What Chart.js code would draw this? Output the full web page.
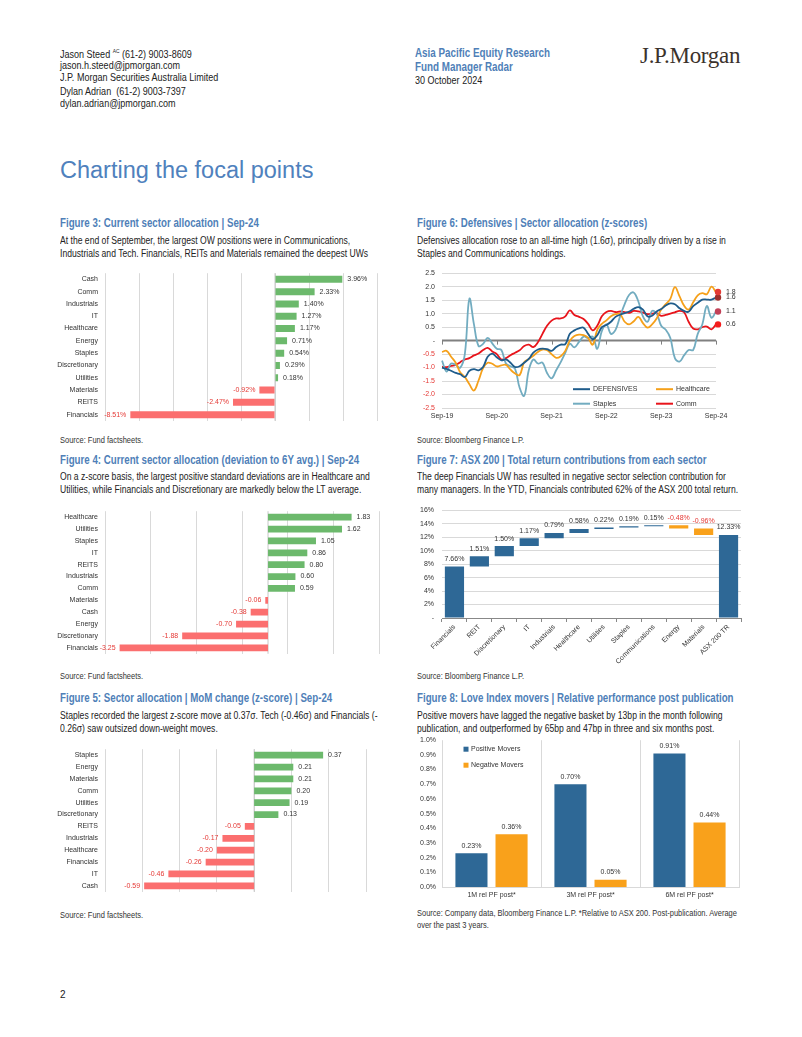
<!DOCTYPE html>
<html lang="en">
<head>
<meta charset="UTF-8">
<title>Fund Manager Radar - Charting the focal points</title>
<script src="https://cdn.jsdelivr.net/npm/chart.js"></script>
<style>
  body { margin: 0; background: #fff; font-family: "Liberation Sans", Arial, sans-serif; color: #222; }
  #page { position: relative; width: 802px; height: 1037px; overflow: hidden; }
  .t { position: absolute; white-space: nowrap; line-height: 1; transform-origin: 0 0; }
  /* no narrow face installed, so squeeze the regular one */
  .nar { transform: scaleX(0.82); }
  .hd { font-size: 11px; }
  .blue { color: #4f7fb8; font-weight: bold; }
  .logo { font-family: "Liberation Serif", "Times New Roman", serif; font-size: 23px; letter-spacing: -0.3px; color: #3b322c; }
  .h1 { font-size: 23.5px; color: #4f81bd; }
  .ft { font-size: 12px; font-weight: bold; color: #4f7fb8; transform: scaleX(0.81); }
  .desc { font-size: 10px; line-height: 13px; transform: scaleX(0.86); }
  .src { font-size: 9px; line-height: 12px; color: #333; transform: scaleX(0.83); }
  canvas { position: absolute; }
</style>
</head>
<body>
<div id="page">
  <div class="t nar hd" style="left:60px;top:47.5px">Jason Steed <sup style="font-size:6px">AC</sup> (61-2) 9003-8609</div>
  <div class="t nar hd" style="left:60px;top:59.5px">jason.h.steed@jpmorgan.com</div>
  <div class="t nar hd" style="left:60px;top:71.5px">J.P. Morgan Securities Australia Limited</div>
  <div class="t nar hd" style="left:60px;top:85.5px">Dylan Adrian&nbsp; (61-2) 9003-7397</div>
  <div class="t nar hd" style="left:60px;top:97.5px">dylan.adrian@jpmorgan.com</div>

  <div class="t nar blue" style="left:415px;top:47px;font-size:12px">Asia Pacific Equity Research</div>
  <div class="t nar blue" style="left:415px;top:61px;font-size:12px">Fund Manager Radar</div>
  <div class="t nar hd" style="left:415px;top:74.5px">30 October 2024</div>
  <div class="t logo" style="left:640px;top:43.5px">J.P.Morgan</div>

  <div class="t h1" style="left:60px;top:159px">Charting the focal points</div>

  <div class="t ft" style="left:60px;top:217px">Figure 3: Current sector allocation | Sep-24</div>
  <div class="t desc" style="left:60px;top:233.5px">At the end of September, the largest OW positions were in Communications,<br>Industrials and Tech. Financials, REITs and Materials remained the deepest UWs</div>
  <div class="t src" style="left:60px;top:434px">Source: Fund factsheets.</div>

  <div class="t ft" style="left:60px;top:454px">Figure 4: Current sector allocation (deviation to 6Y avg.) | Sep-24</div>
  <div class="t desc" style="left:60px;top:470px">On a z-score basis, the largest positive standard deviations are in Healthcare and<br>Utilities, while Financials and Discretionary are markedly below the LT average.</div>
  <div class="t src" style="left:60px;top:670px">Source: Fund factsheets.</div>

  <div class="t ft" style="left:60px;top:692px">Figure 5: Sector allocation | MoM change (z-score) | Sep-24</div>
  <div class="t desc" style="left:60px;top:708.5px">Staples recorded the largest z-score move at 0.37σ. Tech (-0.46σ) and Financials (-<br>0.26σ) saw outsized down-weight moves.</div>
  <div class="t src" style="left:60px;top:909px">Source: Fund factsheets.</div>

  <div class="t ft" style="left:417px;top:217px">Figure 6: Defensives | Sector allocation (z-scores)</div>
  <div class="t desc" style="left:417px;top:233.5px">Defensives allocation rose to an all-time high (1.6σ), principally driven by a rise in<br>Staples and Communications holdings.</div>
  <div class="t src" style="left:417px;top:434px">Source: Bloomberg Finance L.P.</div>

  <div class="t ft" style="left:417px;top:454px">Figure 7: ASX 200 | Total return contributions from each sector</div>
  <div class="t desc" style="left:417px;top:470px">The deep Financials UW has resulted in negative sector selection contribution for<br>many managers. In the YTD, Financials contributed 62% of the ASX 200 total return.</div>
  <div class="t src" style="left:417px;top:670px">Source: Bloomberg Finance L.P.</div>

  <div class="t ft" style="left:417px;top:692px">Figure 8: Love Index movers | Relative performance post publication</div>
  <div class="t desc" style="left:417px;top:708.5px">Positive movers have lagged the negative basket by 13bp in the month following<br>publication, and outperformed by 65bp and 47bp in three and six months post.</div>
  <div class="t src" style="left:417px;top:907px">Source: Company data, Bloomberg Finance L.P. *Relative to ASX 200. Post-publication. Average<br>over the past 3 years.</div>

  <div class="t" style="left:60px;top:990px;font-size:10px">2</div>

  <canvas id="fig3" width="330" height="170" style="left:55px;top:262px"></canvas>
  <canvas id="fig4" width="330" height="165" style="left:55px;top:500px"></canvas>
  <canvas id="fig5" width="330" height="165" style="left:55px;top:738px"></canvas>
  <canvas id="fig6" width="340" height="166" style="left:410px;top:262px"></canvas>
  <canvas id="fig7" width="340" height="185" style="left:410px;top:498px"></canvas>
  <canvas id="fig8" width="340" height="175" style="left:410px;top:730px"></canvas>
</div>
<script>
// Figure 3: current sector allocation (% OW/UW)
const fig3Sectors = ['Cash', 'Comm', 'Industrials', 'IT', 'Healthcare', 'Energy', 'Staples', 'Discretionary', 'Utilities', 'Materials', 'REITS', 'Financials'];
const fig3Values = [3.96, 2.33, 1.40, 1.27, 1.17, 0.71, 0.54, 0.29, 0.18, -0.92, -2.47, -8.51];

// Figure 4: deviation to 6Y average (z-score)
const fig4Sectors = ['Healthcare', 'Utilities', 'Staples', 'IT', 'REITS', 'Industrials', 'Comm', 'Materials', 'Cash', 'Energy', 'Discretionary', 'Financials'];
const fig4Values = [1.83, 1.62, 1.05, 0.86, 0.80, 0.60, 0.59, -0.06, -0.38, -0.70, -1.88, -3.25];

// Figure 5: MoM change (z-score)
const fig5Sectors = ['Staples', 'Energy', 'Materials', 'Comm', 'Utilities', 'Discretionary', 'REITS', 'Industrials', 'Healthcare', 'Financials', 'IT', 'Cash'];
const fig5Values = [0.37, 0.21, 0.21, 0.20, 0.19, 0.13, -0.05, -0.17, -0.20, -0.26, -0.46, -0.59];

// Figure 6: monthly z-scores, Sep-19 .. Sep-24
const fig6Series = ['DEFENSIVES', 'Healthcare', 'Staples', 'Comm'];
const fig6Defensives = [
  -1.00, -1.05, -1.12, -1.20, -1.25, -1.35, -1.12, -1.06, -1.10, -0.98,
  -0.60, -0.48, -0.62, -0.73, -0.70, -0.82, -0.98, -0.95, -0.82, -0.68,
  -0.45, -0.33, -0.30, -0.32, -0.38, -0.24, -0.15, -0.13, 0.25, 0.38,
  0.45, 0.48, 0.25, 0.05, 0.20, 0.50, 0.58, 0.70, 0.88, 0.96,
  1.02, 1.08, 1.18, 1.24, 1.15, 0.90, 0.92, 1.08, 1.17, 1.30,
  1.38, 1.35, 1.20, 1.10, 1.07, 1.28, 1.40, 1.52, 1.52, 1.52,
  1.60];
const fig6Healthcare = [
  -0.42, -0.38, -0.60, -0.82, -1.18, -1.35, -1.62, -1.85, -1.48, -1.02,
  -0.82, -0.86, -0.96, -0.92, -0.90, -1.08, -1.22, -1.28, -0.80, -0.68,
  -0.56, -0.42, -0.33, -0.36, -0.50, -0.64, -0.58, -0.38, 0.00, 0.17,
  0.22, 0.20, 0.10, -0.15, 0.40, 0.62, 0.75, 0.90, 0.98, 0.98,
  0.70, 0.60, 0.72, 0.88, 0.65, 0.48, 0.60, 0.82, 1.15, 1.35,
  1.55, 1.98, 1.65, 1.30, 1.15, 1.42, 1.68, 1.76, 1.72, 2.00,
  1.80];
const fig6Staples = [
  -0.74, -1.15, -0.85, -0.90, -1.00, -0.50, 1.55, 0.60, -0.20, -0.12,
  0.10, -0.10, -0.30, -0.35, -0.85, -0.95, -1.05, -1.75, -2.05, -1.10,
  -0.70, -0.85, -0.82, -1.20, -1.40, -1.10, -0.80, -0.45, -0.12, -0.25,
  -0.05, 0.15, 0.10, 0.15, -0.30, 0.35, 0.60, 0.25, 0.40, 0.90,
  1.35, 1.70, 1.78, 1.45, 0.90, 0.70, 1.10, 1.00, 0.55, 0.40,
  0.10, -0.65, -0.78, -0.55, -0.35, -0.35, 0.25, 0.60, 1.28, 0.85,
  1.08];
const fig6Comm = [
  -0.98, -0.98, -0.94, -0.90, -0.80, -0.70, -0.65, -0.55, -0.48, -0.35,
  -0.27, -0.40, -0.50, -0.70, -0.65, -0.54, -0.45, -0.36, -0.20, -0.15,
  -0.24, -0.06, 0.25, 0.55, 0.74, 0.82, 0.82, 0.90, 1.12, 0.95,
  0.88, 0.80, 0.62, 0.38, 0.55, 0.90, 1.06, 1.10, 1.06, 1.08,
  1.06, 1.03, 1.10, 1.08, 1.04, 0.98, 1.00, 1.02, 0.92, 0.95,
  1.00, 1.05, 1.10, 1.05, 0.70, 0.45, 0.42, 0.50, 0.52, 0.42,
  0.60];

// Figure 7: ASX 200 YTD total return contribution (%)
const fig7Sectors = ['Financials', 'REIT', 'Discretionary', 'IT', 'Industrials', 'Healthcare', 'Utilities', 'Staples', 'Communications', 'Energy', 'Materials', 'ASX 200 TR'];
const fig7Contrib = [7.66, 1.51, 1.50, 1.17, 0.79, 0.58, 0.22, 0.19, 0.15, -0.48, -0.96, 12.33];

// Figure 8: relative performance post publication (%)
const fig8Periods = ['1M rel PF post*', '3M rel PF post*', '6M rel PF post*'];
const fig8Positive = [0.23, 0.70, 0.91];
const fig8Negative = [0.36, 0.05, 0.44];

const FONT = '"Liberation Sans", Arial, sans-serif';
const GREEN_BAR = '#6cb96c';
const RED_BAR = '#fb6f6f';
const RED_TEXT = '#e53935';
const BLUE = '#2e6896';
const ORANGE = '#f9a11b';
const GRID = '#d9d9d9';

Chart.defaults.font.family = FONT;
Chart.defaults.font.size = 7;
Chart.defaults.color = '#333';

// value tags at the end of horizontal bars + a zero line
const hbarTags = {
  id: 'hbarTags',
  beforeDatasetsDraw(chart) {
    const { ctx, chartArea } = chart;
    const x0 = chart.scales.x.getPixelForValue(0);
    ctx.save();
    ctx.strokeStyle = '#c8c8c8';
    ctx.lineWidth = 1;
    ctx.beginPath();
    ctx.moveTo(x0, chartArea.top);
    ctx.lineTo(x0, chartArea.bottom);
    ctx.stroke();
    ctx.restore();
  },
  afterDatasetsDraw(chart, args, opts) {
    const { ctx } = chart;
    const values = chart.data.datasets[0].data;
    ctx.save();
    ctx.font = '7px ' + FONT;
    ctx.textBaseline = 'middle';
    chart.getDatasetMeta(0).data.forEach((bar, i) => {
      const v = values[i];
      const txt = v.toFixed(2) + (opts.suffix || '');
      if (v >= 0) {
        ctx.fillStyle = '#333';
        ctx.textAlign = 'left';
        ctx.fillText(txt, bar.x + 5, bar.y);
      } else {
        ctx.fillStyle = RED_TEXT;
        ctx.textAlign = 'right';
        ctx.fillText(txt, bar.x - 4, bar.y);
      }
    });
    ctx.restore();
  }
};

function sectorChart(id, labels, values, axis, suffix, pad) {
  return new Chart(document.getElementById(id), {
    type: 'bar',
    data: {
      labels: labels,
      datasets: [{
        data: values,
        backgroundColor: values.map(v => v < 0 ? RED_BAR : GREEN_BAR),
        categoryPercentage: 1,
        barPercentage: 0.57
      }]
    },
    options: {
      indexAxis: 'y',
      responsive: false,
      animation: false,
      layout: { padding: pad },
      plugins: { legend: { display: false }, tooltip: { enabled: false }, hbarTags: { suffix: suffix } },
      scales: {
        x: {
          min: axis.min, max: axis.max,
          afterBuildTicks: s => {
            const t = [];
            for (let v = axis.min; v <= axis.max + 1e-9; v += axis.step) t.push({ value: v });
            s.ticks = t;
          },
          ticks: { display: false },
          grid: { color: GRID, drawTicks: false },
          border: { display: false },
          afterFit: s => { s.height = 0; }
        },
        y: {
          ticks: { padding: 7, color: '#333' },
          grid: { display: false, drawTicks: false },
          border: { display: false },
          afterFit: s => { s.width = 50; }
        }
      }
    },
    plugins: [hbarTags]
  });
}

sectorChart('fig3', fig3Sectors, fig3Values, { min: -10, max: 6, step: 2 }, '%', { top: 6, right: 8, bottom: 11, left: 0 });
sectorChart('fig4', fig4Sectors, fig4Values, { min: -3.57, max: 2.43, step: 1 }, '', { top: 5.6, right: 6, bottom: 6.6, left: 0 });
sectorChart('fig5', fig5Sectors, fig5Values, { min: -0.8, max: 0.6, step: 0.2 }, '', { top: 5.4, right: 19, bottom: 7.7, left: 0 });

// ---- Figure 6 ----
const monthNames = ['Sep', 'Oct', 'Nov', 'Dec', 'Jan', 'Feb', 'Mar', 'Apr', 'May', 'Jun', 'Jul', 'Aug'];
const fig6Months = fig6Defensives.map((_, i) => {
  const yr = 19 + Math.floor((i + 8) / 12);
  return monthNames[i % 12] + '-' + yr;
});
const fig6Colors = ['#1f5c8b', '#f5a01a', '#72acc0', '#e8141b'];
const fig6Dots = ['#9e2f2c', '#e33a35', '#c24157', '#f41d1d'];

const fig6Extras = {
  id: 'fig6Extras',
  beforeDatasetsDraw(chart) {
    const { ctx, chartArea } = chart;
    const y0 = chart.scales.y.getPixelForValue(0);
    ctx.save();
    ctx.strokeStyle = '#808080';
    ctx.lineWidth = 2;
    ctx.beginPath();
    ctx.moveTo(chartArea.left, y0);
    ctx.lineTo(chartArea.right, y0);
    ctx.stroke();
    ctx.lineWidth = 1;
    chart.data.labels.forEach((lab, i) => {
      if (i % 12 !== 0) return;
      const x = Math.round(chart.scales.x.getPixelForValue(i)) + 0.5;
      ctx.beginPath();
      ctx.moveTo(x, y0);
      ctx.lineTo(x, y0 + 4);
      ctx.stroke();
    });
    ctx.restore();
  },
  afterDatasetsDraw(chart) {
    const { ctx, chartArea } = chart;
    ctx.save();
    ctx.font = '7px ' + FONT;
    ctx.textBaseline = 'middle';
    // end-point markers
    chart.data.datasets.forEach((ds, di) => {
      const pts = chart.getDatasetMeta(di).data;
      const last = pts[pts.length - 1];
      ctx.fillStyle = fig6Dots[di];
      ctx.beginPath();
      ctx.arc(last.x + 2, last.y, 3.2, 0, Math.PI * 2);
      ctx.fill();
      ctx.fillStyle = '#333';
      ctx.textAlign = 'left';
      ctx.fillText(ds.data[ds.data.length - 1].toFixed(1), last.x + 10, last.y);
    });
    // legend inside the plot
    const pos = [[131, 116], [214, 116], [131, 130.5], [214, 130.5]];
    chart.data.datasets.forEach((ds, di) => {
      const x = chartArea.left + pos[di][0];
      const y = chartArea.top + pos[di][1];
      ctx.strokeStyle = fig6Colors[di];
      ctx.lineWidth = 2;
      ctx.beginPath();
      ctx.moveTo(x, y);
      ctx.lineTo(x + 17, y);
      ctx.stroke();
      ctx.fillStyle = '#333';
      ctx.textAlign = 'left';
      ctx.fillText(ds.label, x + 20, y);
    });
    ctx.restore();
  }
};

new Chart(document.getElementById('fig6'), {
  type: 'line',
  data: {
    labels: fig6Months,
    datasets: [fig6Defensives, fig6Healthcare, fig6Staples, fig6Comm].map((d, i) => ({
      label: fig6Series[i],
      data: d,
      borderColor: fig6Colors[i],
      borderWidth: 1.8,
      pointRadius: 0,
      tension: 0.4
    }))
  },
  options: {
    responsive: false,
    animation: false,
    layout: { padding: { top: 9, right: 34, bottom: 6, left: 0 } },
    plugins: { legend: { display: false }, tooltip: { enabled: false } },
    scales: {
      x: {
        offset: false,
        grid: { display: false, drawTicks: false },
        border: { display: false },
        ticks: {
          autoSkip: false, maxRotation: 0, padding: 4,
          callback: function (val, idx) { return idx % 12 === 0 ? this.getLabelForValue(val) : ''; }
        },
        afterFit: s => { s.height = 14; }
      },
      y: {
        min: -2.5, max: 2.5,
        grid: { color: c => c.tick.value === 0 ? 'rgba(0,0,0,0)' : GRID, drawTicks: false },
        border: { display: false },
        ticks: {
          stepSize: 0.5, padding: 7,
          color: c => c.tick.value < 0 ? RED_TEXT : '#333',
          callback: v => v === 0 ? '-' : v.toFixed(1)
        },
        afterFit: s => { s.width = 32; }
      }
    }
  },
  plugins: [fig6Extras]
});

// ---- Figure 7: waterfall ----
let runTotal = 0;
const fig7Ranges = fig7Contrib.map((v, i) => {
  if (i === fig7Contrib.length - 1) return [0, v];
  const r = [runTotal, runTotal + v];
  runTotal += v;
  return r;
});

const vbarTags = {
  id: 'vbarTags',
  afterDatasetsDraw(chart) {
    const { ctx } = chart;
    ctx.save();
    ctx.font = '7px ' + FONT;
    ctx.textAlign = 'center';
    ctx.textBaseline = 'bottom';
    chart.data.datasets.forEach((ds, di) => {
      chart.getDatasetMeta(di).data.forEach((bar, i) => {
        const v = ds.tags ? ds.tags[i] : ds.data[i];
        ctx.fillStyle = v < 0 ? RED_TEXT : '#333';
        ctx.fillText(v.toFixed(2) + '%', bar.x, Math.min(bar.y, bar.base) - 4);
      });
    });
    ctx.restore();
  }
};

new Chart(document.getElementById('fig7'), {
  type: 'bar',
  data: {
    labels: fig7Sectors,
    datasets: [{
      data: fig7Ranges,
      tags: fig7Contrib,
      backgroundColor: fig7Contrib.map(v => v < 0 ? ORANGE : BLUE),
      categoryPercentage: 1,
      barPercentage: 0.77
    }]
  },
  options: {
    responsive: false,
    animation: false,
    layout: { padding: { top: 9, right: 9, bottom: 0, left: 0 } },
    plugins: { legend: { display: false }, tooltip: { enabled: false } },
    scales: {
      x: {
        grid: { drawOnChartArea: false, drawTicks: true, tickLength: 4, color: '#888' },
        border: { display: true, color: '#888' },
        ticks: { minRotation: 45, maxRotation: 45, autoSkip: false, padding: 1 },
        afterFit: s => { s.height = 65; }
      },
      y: {
        min: 0, max: 16,
        grid: { color: GRID, drawTicks: false },
        border: { display: false },
        ticks: { stepSize: 2, padding: 8, callback: v => v === 0 ? '-' : v + '%' },
        afterFit: s => { s.width = 32; }
      }
    }
  },
  plugins: [vbarTags]
});

// ---- Figure 8 ----
const fig8Legend = {
  id: 'fig8Legend',
  afterDatasetsDraw(chart) {
    const { ctx, chartArea } = chart;
    ctx.save();
    ctx.font = '7px ' + FONT;
    ctx.textBaseline = 'middle';
    ctx.textAlign = 'left';
    chart.data.datasets.forEach((ds, di) => {
      const x = chartArea.left + 24;
      const y = chartArea.top + 9 + di * 16;
      ctx.fillStyle = ds.backgroundColor;
      ctx.fillRect(x - 2.5, y - 2.5, 5, 5);
      ctx.fillStyle = '#333';
      ctx.fillText(ds.label, x + 5, y);
    });
    ctx.restore();
  }
};

new Chart(document.getElementById('fig8'), {
  type: 'bar',
  data: {
    labels: fig8Periods,
    datasets: [
      { label: 'Positive Movers', data: fig8Positive, backgroundColor: BLUE, categoryPercentage: 0.81, barPercentage: 0.8 },
      { label: 'Negative Movers', data: fig8Negative, backgroundColor: ORANGE, categoryPercentage: 0.81, barPercentage: 0.8 }
    ]
  },
  options: {
    responsive: false,
    animation: false,
    layout: { padding: { top: 9, right: 11, bottom: 6, left: 0 } },
    plugins: { legend: { display: false }, tooltip: { enabled: false } },
    scales: {
      x: {
        grid: { color: GRID, drawTicks: false },
        border: { display: true, color: GRID },
        ticks: { padding: 4, maxRotation: 0 },
        afterFit: s => { s.height = 12; }
      },
      y: {
        min: 0, max: 1.0,
        grid: { display: false, drawTicks: false },
        border: { display: false },
        ticks: { stepSize: 0.1, padding: 6, callback: v => v.toFixed(1) + '%' },
        afterFit: s => { s.width = 32; }
      }
    }
  },
  plugins: [vbarTags, fig8Legend]
});
</script>
</body>
</html>
